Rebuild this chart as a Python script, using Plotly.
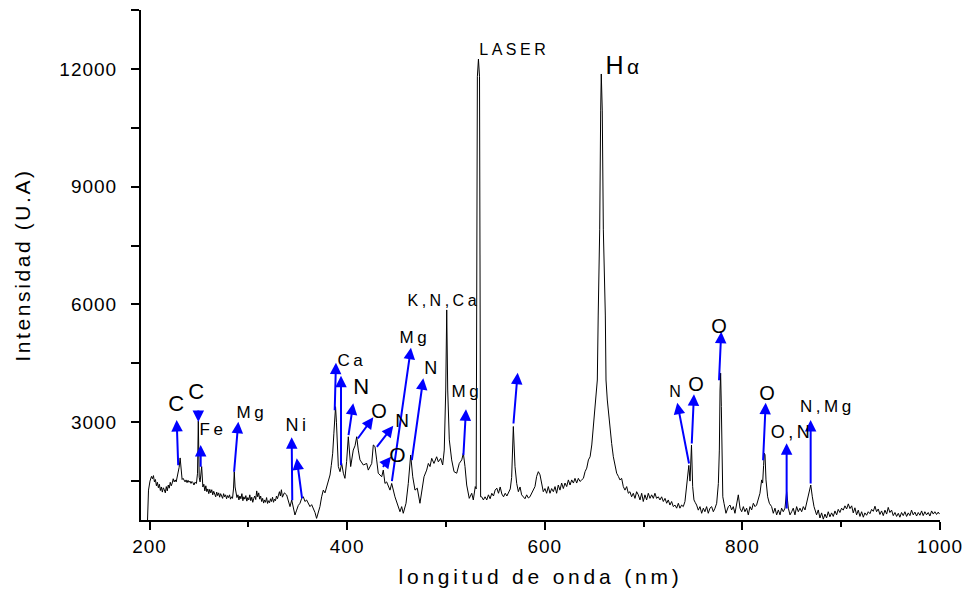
import plotly.graph_objects as go

# ---------------- spectrum data (wavelength nm, intensity a.u.) ----------------
wl_a = [198, 199, 200.5, 202, 203, 204, 205, 206, 207, 208, 209, 210, 211, 212, 213, 214, 215, 216, 217, 218,
        219, 220, 221, 222, 223, 224, 225, 226, 227, 228, 229, 230, 231, 232, 233, 234, 235, 236, 237, 238,
        239, 240, 241, 242, 243, 244, 245, 246, 247.5, 248.6, 249.4, 250.3, 251.2, 252.8, 254, 255, 256, 257,
        258, 259, 260, 261, 262, 263, 264, 265, 266, 267, 268, 269, 270, 271, 272, 273, 274, 275, 276, 277,
        278, 279, 280, 281, 282, 283, 284, 285, 285.8, 286.6, 287.5, 288.5, 289.5, 290.5]
int_a = [509, 1270, 1500, 1620, 1560, 1640, 1480, 1540, 1380, 1470, 1330, 1420, 1260, 1350, 1220, 1330, 1280, 1200, 1360, 1250,
         1400, 1320, 1470, 1380, 1450, 1560, 1480, 1530, 1480, 1600, 1700, 1850, 2090, 1700, 1540, 1570, 1500, 1480, 1530, 1460,
         1520, 1470, 1500, 1440, 1490, 1460, 1400, 1470, 1440, 1700, 3030, 1600, 1480, 1870, 1350, 1420, 1250, 1380,
         1230, 1300, 1180, 1290, 1200, 1280, 1150, 1240, 1170, 1100, 1220, 1130, 1200, 1090, 1180, 1120, 1060, 1180, 1100, 1150,
         1050, 1130, 1080, 1150, 1040, 1100, 1060, 1300, 1740, 1350, 1200, 1080, 1150, 1020]

wl_b = [291.5, 292.5, 293.5, 294.5, 295.5, 296.5, 297.5, 298.5, 299.5, 300.5, 301.5, 302.5, 303.5, 304.5, 305.5, 306.5,
        307.5, 308.5, 309.5, 310.5, 311.5, 312.5, 313.5, 314.5, 315.5, 316.5, 317.5, 318.5, 319.5, 320.5, 321.5, 322.5,
        323.5, 324.5, 325.5, 326.5, 327.5, 328.5, 329.5, 330.5, 331.5, 332.5, 333.5, 334.5, 336.5, 338.8, 340.5, 342.2,
        343.9, 345.5, 347.2, 348.9, 350.6, 352.3, 354, 355.7, 357.3, 359, 360.7, 362.4, 364.1, 365.8, 367.5, 369.1,
        370.8, 372.5, 374.2, 375.9, 377.6, 379.3, 381, 382.7, 384, 385.4, 386.6, 387.5, 388.3, 389.2, 390]
int_b = [1120, 1050, 1180, 1000, 1100, 1040, 1130, 990, 1080, 1020, 1150, 1000, 1090, 960, 1060, 1120,
         1030, 1250, 1100, 1200, 1040, 1120, 980, 1060, 940, 1020, 960, 1080, 930, 1000, 950, 1050,
         980, 1090, 960, 1040, 1000, 1120, 1050, 1180, 1230, 1120, 1280, 1090, 1200, 1146, 1000, 850,
         1019, 820, 637, 760, 880, 935, 1060, 1100, 980, 1019, 920, 850, 900, 800, 700, 550,
         700, 850, 1100, 1270, 1200, 1360, 1500, 1655, 1900, 2210, 2720, 3100, 3395, 3000, 2300]

wl_c = [391.1, 392.8, 394.5, 396.2, 397.8, 399.5, 401.2, 403.6, 406.2, 408, 409.7, 411.3, 413, 416.4, 419.8, 421.4,
        424.9, 426.5, 428.2, 429.9, 431.5, 435, 436.6, 438.3, 440, 443.4, 445.1, 448.4, 451.8, 453.5, 455.2, 456.8,
        459.6, 461.9, 464.3, 466.4, 468.7, 471, 473.7, 475.5, 477.8, 480.5, 482.2, 483.9, 485.6, 487.9, 490.6, 492.3,
        494.7, 496.7, 498.3, 499.8, 500.8, 501.8, 503.4, 505.8, 508.2, 510.9, 513.5, 516, 517.6, 519.3, 521, 523.6,
        526.1, 527.7, 529.7]
int_c = [1870, 1740, 1950, 1700, 1570, 2000, 2630, 1870, 2290, 2400, 2630, 2290, 2040, 1910, 1950, 1780,
         1950, 2420, 2380, 2040, 1700, 1610, 1780, 1440, 1480, 1270, 1440, 1100, 850, 720, 850, 680,
         935, 1440, 2165, 1610, 1270, 1320, 935, 1270, 1610, 1780, 1950, 1870, 2080, 1950, 2120, 1990,
         2080, 1910, 2290, 3820, 5860, 3820, 2550, 2040, 1740, 1700, 1950, 2040, 2210, 1870, 1400, 1060,
         1190, 1020, 1360]

wl_d = [530.6, 531.8, 532.9, 534, 535.1, 536.2, 537.9, 539.6, 541.3, 543, 544.7, 546.4, 548.1, 549.8, 551.5, 553.2,
        554.9, 556.6, 558.3, 560, 561.7, 563.4, 565.1, 566.5, 568.2, 569.9, 571.6, 573.3, 575, 576.6, 578.3, 580,
        581.7, 583.4, 585, 586.7, 588.4, 590.1, 591.8, 593.5, 595.2, 596.9, 598.5, 600.2, 601.9, 603.6, 605.3, 607,
        608.7, 610.4, 612, 613.7, 615.4, 617.1, 618.8, 620.5, 622.2, 623.9, 625.6, 627.3, 629, 630.6, 632.3, 634,
        635.7, 637.4, 639.1, 640.8, 642.5, 644.2, 645.9, 647.6, 649.3, 651, 652.6, 653.2, 654.1, 655.6, 656.6, 657.2,
        658.2, 659.3, 661.3, 662, 663.3, 665.3, 667.7, 669.4, 671.1, 672.8, 674.5]
int_d = [1300, 11800, 12250, 11800, 1100, 1100, 1020, 1100, 1020, 1150, 1050, 1190, 1120, 1270, 1320, 1190,
         1350, 1170, 1100, 1190, 1120, 1220, 1300, 1590, 2890, 1870, 1440, 1230, 1350, 1150, 1100, 1050,
         1150, 1070, 1100, 1180, 1270, 1360, 1620, 1740, 1660, 1470, 1230, 1310, 1190, 1360, 1190, 1310,
         1230, 1360, 1190, 1400, 1270, 1450, 1310, 1450, 1360, 1530, 1400, 1530, 1450, 1570, 1450, 1570,
         1490, 1530, 1570, 1740, 1830, 2040, 2120, 2420, 2890, 3300, 3700, 4075, 5730, 7900, 10950, 11870,
         10950, 7900, 5730, 4075, 3565, 2970, 2460, 2120, 1870, 1700, 1620]

wl_e = [676.1, 677.8, 679.5, 681.2, 682.9, 684.6, 686.2, 687.9, 689.6, 691.3, 693, 694.7, 696.4, 698.1, 699.7, 701.4,
        703.1, 704.8, 706.5, 708.2, 709.9, 711.5, 713.2, 714.9, 716.6, 718.3, 720, 721.7, 723.4, 725, 726.7, 728.4,
        730.1, 731.8, 733.5, 735.2, 736.8, 738.5, 740.2, 741.9, 743.6, 745.8, 747, 748.5, 749.7, 751, 752.4, 753.7,
        755.4, 757.1, 758.8, 760.5, 762.1, 763.8, 765.5, 767.2, 768.9, 770.6, 772.3, 774, 775.7, 776.7, 777.4, 778,
        778.7, 779.4, 780.2, 781.4, 783.4, 785.8, 787.5, 789.1, 790.8, 792.5, 794.2, 795.9, 797.6, 799.3, 801, 802.6,
        804.3, 806, 807.7, 809.4, 811.1, 812.8, 814.4, 816.1, 817.8, 819.5, 820.5, 821.5, 822.2, 822.9, 823.9, 825.6,
        827.3, 829.6, 831.3, 833, 834.7, 836.4, 838.1, 839.7, 841.4, 843.1, 844.8, 846.5, 848.2, 849.9, 851.5, 853.2,
        854.9, 856.6, 858.3, 860, 861.7, 863.4, 865, 866.7, 868.4, 869.2, 870.8, 872.5, 875.1, 876.8]
int_e = [1530, 1570, 1360, 1270, 1360, 1190, 1230, 1100, 1190, 1060, 1230, 1150, 1020, 1190, 980, 1150,
         1020, 1190, 1060, 1150, 1060, 1190, 1060, 1100, 1020, 1100, 980, 1060, 935, 1020, 890, 980,
         850, 890, 810, 935, 810, 890, 850, 980, 1360, 1900, 1500, 2420, 1360, 1020, 950, 890,
         760, 850, 680, 810, 720, 850, 680, 810, 850, 720, 810, 935, 1440, 2290, 3820, 4250,
         3400, 1700, 1100, 935, 680, 850, 890, 765, 850, 680, 890, 1150, 810, 720, 850, 720,
         810, 640, 850, 765, 935, 850, 890, 1020, 1190, 1530, 1450, 1900, 2210, 2170, 1530, 1100,
         935, 850, 680, 810, 640, 765, 640, 810, 720, 810, 1230, 810, 640, 720, 810, 640,
         850, 720, 810, 720, 850, 765, 935, 1100, 1360, 1400, 1100, 850, 640, 765]

wl_f = [878.5, 880.2, 881.9, 883.6, 885.2, 886.9, 888.6, 890.3, 892, 893.7, 895.4, 897, 898.7, 900.4, 902.1, 903.8,
        905.5, 907.2, 908.9, 910.6, 912.2, 913.9, 915.6, 917.3, 919, 920.7, 922.4, 924, 925.7, 927.4, 929.1, 930.8,
        932.5, 934.2, 935.8, 937.5, 939.2, 940.9, 942.6, 944.3, 946, 947.6, 949.3, 951, 952.7, 954.4, 956.1, 957.8,
        959.4, 961.1, 962.8, 964.5, 966.2, 967.9, 969.6, 971.2, 972.9, 974.6, 976.3, 978, 979.7, 981.4, 983, 984.7,
        986.4, 988.1, 989.8, 991.5, 993.2, 994.8, 996.5, 998.2, 999.5]
int_f = [560, 690, 530, 660, 560, 720, 590, 690, 600, 740, 640, 780, 700, 810, 760, 870,
         790, 920, 800, 870, 690, 820, 640, 760, 600, 720, 580, 690, 630, 720, 670, 780,
         730, 860, 720, 790, 650, 740, 620, 760, 660, 830, 700, 760, 620, 700, 600, 680,
         580, 700, 620, 720, 600, 690, 620, 760, 640, 710, 610, 700, 630, 740, 620, 720,
         640, 700, 610, 740, 660, 720, 650, 710, 660]

wavelength = wl_a + wl_b + wl_c + wl_d + wl_e + wl_f
intensity = int_a + int_b + int_c + int_d + int_e + int_f

# ---------------- peak labels ----------------
label_text = ["C", "C", "Fe", "Mg", "Ni", "Ca", "N", "O", "N", "O", "Mg", "N", "Mg", "K,N,Ca",
              "N", "O", "O", "O", "O,N", "N,Mg"]
label_x = [229.1, 249.4, 264.6, 303.4, 350.0, 404.6, 416.4, 434.0, 457.6, 452.8, 468.7, 486.4, 521.6, 498.5,
           734.1, 755.4, 778.6, 827.2, 850.7, 886.4]
label_y = [3464, 3776, 2802, 3236, 2929, 4576, 3922, 3291, 3056, 2190, 5163, 4381, 3778, 6088,
           3777, 3973, 5458, 3749, 2759, 3406]
label_size = [22, 22, 17, 17, 18, 17, 22, 20, 19, 21, 17, 18, 17, 16,
              16, 20, 20, 20, 18, 17]

# ---------------- blue arrows: tail (on the peak) -> head ----------------
arrow_tail_x = [229.1, 249.4, 251.8, 285.5, 344.5, 354.6, 387.4, 393.8, 401.2, 409.7, 428.9, 435.0, 445.1, 465.3,
                517.6, 568.2, 746.3, 748.7, 776.3, 820.9, 844.8, 869.1]
arrow_tail_y = [1867, 3337, 1826, 1699, 975, 1019, 3268, 1867, 2631, 2547, 2336, 1826, 1459, 1994,
                2122, 2929, 1910, 2420, 4032, 1994, 764, 1401]
arrow_head_x = [227.5, 249.4, 251.8, 289.9, 343.9, 349.0, 388.7, 393.8, 406.2, 426.5, 446.7, 444.4, 464.6, 477.1,
                520.3, 572.6, 734.1, 751.0, 778.6, 823.6, 844.8, 869.1]
arrow_head_y = [3056, 3005, 2420, 3013, 2616, 2081, 4516, 4185, 3482, 3125, 2911, 2122, 4898, 4119,
                3329, 4261, 3497, 3711, 5305, 3497, 2463, 3056]

FONT = "Liberation Sans, Arial, sans-serif"

fig = go.Figure()
fig.add_trace(go.Scatter(x=wavelength, y=intensity, mode="lines",
                         line=dict(color="black", width=1), hoverinfo="skip", showlegend=False))

annotations = []
for tx, ty, hx, hy in zip(arrow_tail_x, arrow_tail_y, arrow_head_x, arrow_head_y):
    annotations.append(dict(x=hx, y=hy, ax=tx, ay=ty, xref="x", yref="y", axref="x", ayref="y",
                            text="", showarrow=True, arrowhead=2, arrowsize=1.15, arrowwidth=2,
                            arrowcolor="#0000ff", standoff=0, startstandoff=0))
for t, lx, ly, s in zip(label_text, label_x, label_y, label_size):
    annotations.append(dict(x=lx, y=ly, xref="x", yref="y", text=t, showarrow=False,
                            font=dict(family=FONT, size=s, color="black"),
                            xanchor="center", yanchor="middle"))
annotations.append(dict(x=541.0, y=12505, xref="x", yref="y", text="LASER", showarrow=False,
                        font=dict(family=FONT, size=16, color="black"), xanchor="left", yanchor="middle"))
annotations.append(dict(x=662.5, y=12099, xref="x", yref="y",
                        text="H<span style='font-size:21px'>α</span>", showarrow=False,
                        font=dict(family=FONT, size=25, color="black"), xanchor="left", yanchor="middle"))

fig.update_layout(
    width=966, height=593,
    margin=dict(l=133, r=34, t=2, b=81),
    paper_bgcolor="white", plot_bgcolor="white",
    font=dict(family=FONT, color="black"),
    annotations=annotations,
    xaxis=dict(range=[191.4, 1000], showgrid=False, zeroline=False,
               showline=True, linecolor="black", linewidth=2,
               ticks="outside", ticklen=8, tickwidth=1.5, tickcolor="black",
               tick0=200, dtick=200, tickformat="d",
               minor=dict(dtick=100, ticks="outside", ticklen=5, tickwidth=1.5, tickcolor="black"),
               tickfont=dict(family=FONT, size=19, color="black"),
               ticklabelstandoff=0,
               title=dict(text="longitud de onda (nm)", font=dict(family=FONT, size=21, color="black"), standoff=14)),
    yaxis=dict(range=[509, 13500], showgrid=False, zeroline=False,
               showline=True, linecolor="black", linewidth=2,
               ticks="outside", ticklen=8, tickwidth=1.5, tickcolor="black",
               tick0=0, dtick=3000, tickformat="d",
               minor=dict(dtick=1500, ticks="outside", ticklen=8, tickwidth=1.5, tickcolor="black"),
               tickfont=dict(family=FONT, size=19, color="black"),
               ticklabelstandoff=10,
               title=dict(text="Intensidad (U.A)", font=dict(family=FONT, size=21, color="black"), standoff=28)),
)

# widen letter spacing of the texts, as in the original figure
spacing_js = """
var gd = document.getElementById('{plot_id}');
function spaceText(){
  gd.querySelectorAll('.xtick text, .ytick text').forEach(function(t){ t.style.letterSpacing = '1px'; });
  gd.querySelectorAll('text.xtitle').forEach(function(t){ t.style.letterSpacing = '3.8px'; });
  gd.querySelectorAll('text.ytitle').forEach(function(t){ t.style.letterSpacing = '2.6px'; });
  gd.querySelectorAll('text.annotation-text').forEach(function(t){ t.style.letterSpacing = '3.5px'; });
}
spaceText();
gd.on('plotly_afterplot', spaceText);
"""

fig.write_html("out.html", post_script=spacing_js)
